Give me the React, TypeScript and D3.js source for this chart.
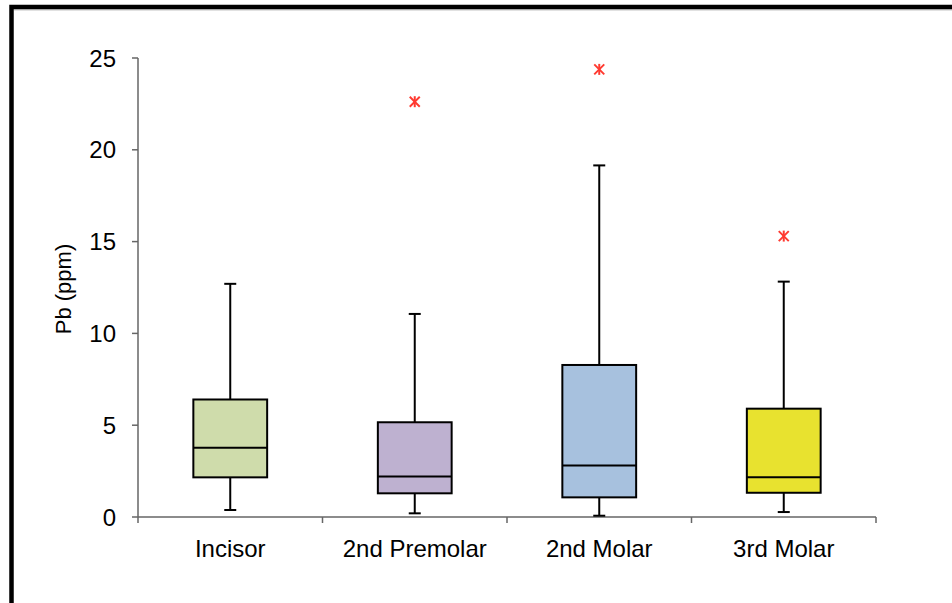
import React from "react";
import * as d3 from "d3";

const categories = ["Incisor", "2nd Premolar", "2nd Molar", "3rd Molar"];
const whiskerLow = [0.38, 0.2, 0.07, 0.27];
const q1 = [2.16, 1.29, 1.07, 1.32];
const median = [3.77, 2.2, 2.8, 2.16];
const q3 = [6.4, 5.16, 8.28, 5.9];
const whiskerHigh = [12.7, 11.06, 19.15, 12.82];
const outliers: number[][] = [[], [22.62], [24.38], [15.3]];
const fills = ["#cfdcab", "#beb1d0", "#a7c1de", "#e8e22f"];
const yTicks = [0, 5, 10, 15, 20, 25];

export default function App() {
  const W = 952;
  const H = 603;
  const left = 138;
  const right = 876;
  const top = 58;
  const bottom = 517;
  const x = d3.scaleBand<string>().domain(categories).range([left, right]).padding(0);
  const y = d3.scaleLinear().domain([0, 25]).range([bottom, top]);
  const bw = x.bandwidth() * 0.4;
  const cap = 12;
  const font = "Liberation Sans, Arial, sans-serif";
  const axisColor = "#666";

  return (
    <svg
      width={W}
      height={H}
      style={{ position: "absolute", left: 0, top: 0, background: "#fff" }}
    >
      <rect x={0} y={0} width={W} height={H} fill="#fff" />
      {/* frame */}
      <rect x={11.5} y={7} width={1200} height={900} fill="none" stroke="#000" strokeWidth={4.5} />
      <line x1={14} x2={W} y1={9.8} y2={9.8} stroke="#999" strokeWidth={1} />

      {/* y axis */}
      <line x1={left} x2={left} y1={top} y2={bottom + 6} stroke={axisColor} strokeWidth={1.5} />
      {yTicks.map((t) => (
        <g key={t}>
          <line x1={left - 6} x2={left} y1={y(t)} y2={y(t)} stroke={axisColor} strokeWidth={1.5} />
          <text
            x={116}
            y={y(t)}
            dy="0.36em"
            textAnchor="end"
            fontFamily={font}
            fontSize={24}
            fill="#000"
          >
            {t}
          </text>
        </g>
      ))}

      {/* x axis */}
      <line x1={left} x2={right} y1={bottom} y2={bottom} stroke={axisColor} strokeWidth={1.5} />
      {categories.map((c, i) => (
        <g key={c}>
          <line
            x1={(x(c) as number) + x.bandwidth()}
            x2={(x(c) as number) + x.bandwidth()}
            y1={bottom}
            y2={bottom + 6}
            stroke={axisColor}
            strokeWidth={1.5}
          />
          <text
            x={(x(c) as number) + x.bandwidth() / 2}
            y={557}
            textAnchor="middle"
            fontFamily={font}
            fontSize={24}
            fill="#000"
          >
            {c}
          </text>
        </g>
      ))}

      {/* y label */}
      <text
        transform={`translate(71,289) rotate(-90)`}
        textAnchor="middle"
        fontFamily={font}
        fontSize={22}
        fill="#000"
      >
        Pb (ppm)
      </text>

      {/* boxes */}
      {categories.map((c, i) => {
        const cx = (x(c) as number) + x.bandwidth() / 2;
        return (
          <g key={c}>
            <line x1={cx} x2={cx} y1={y(whiskerHigh[i])} y2={y(q3[i])} stroke="#000" strokeWidth={2} />
            <line x1={cx} x2={cx} y1={y(q1[i])} y2={y(whiskerLow[i])} stroke="#000" strokeWidth={2} />
            <line x1={cx - cap / 2} x2={cx + cap / 2} y1={y(whiskerHigh[i])} y2={y(whiskerHigh[i])} stroke="#000" strokeWidth={2} />
            <line x1={cx - cap / 2} x2={cx + cap / 2} y1={y(whiskerLow[i])} y2={y(whiskerLow[i])} stroke="#000" strokeWidth={2} />
            <rect
              x={cx - bw / 2}
              y={y(q3[i])}
              width={bw}
              height={y(q1[i]) - y(q3[i])}
              fill={fills[i]}
              stroke="#000"
              strokeWidth={2}
            />
            <line x1={cx - bw / 2} x2={cx + bw / 2} y1={y(median[i])} y2={y(median[i])} stroke="#000" strokeWidth={2} />
            {outliers[i].map((o, j) => {
              const oy = y(o);
              const s = 5;
              return (
                <g key={j} stroke="#ff3a30" strokeWidth={2}>
                  <line x1={cx - s} x2={cx + s} y1={oy - s} y2={oy + s} />
                  <line x1={cx - s} x2={cx + s} y1={oy + s} y2={oy - s} />
                  <line x1={cx} x2={cx} y1={oy - s - 0.5} y2={oy + s + 0.5} />
                </g>
              );
            })}
          </g>
        );
      })}
    </svg>
  );
}
